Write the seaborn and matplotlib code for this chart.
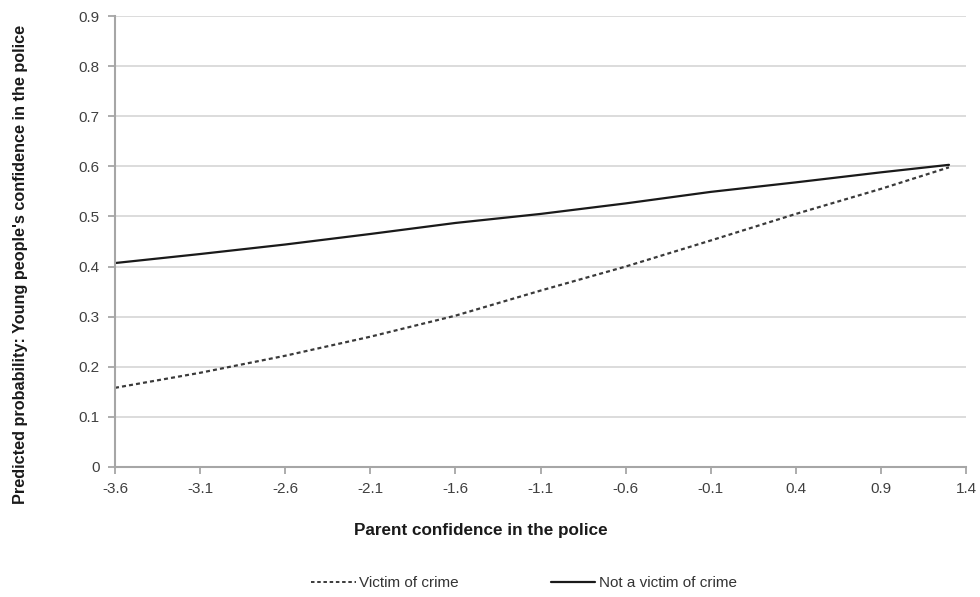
import matplotlib
matplotlib.use("Agg")
import matplotlib.pyplot as plt
import seaborn as sns
import pandas as pd
from matplotlib.lines import Line2D

# Data
parent_conf = [-3.6, -3.1, -2.6, -2.1, -1.6, -1.1, -0.6, -0.1, 0.4, 0.9, 1.3]
victim = [0.158, 0.188, 0.222, 0.260, 0.302, 0.352, 0.400, 0.452, 0.505, 0.555, 0.598]
not_victim = [0.407, 0.425, 0.444, 0.465, 0.487, 0.505, 0.526, 0.549, 0.568, 0.588, 0.603]
x_ticks = [-3.6, -3.1, -2.6, -2.1, -1.6, -1.1, -0.6, -0.1, 0.4, 0.9, 1.4]
y_ticks = [0, 0.1, 0.2, 0.3, 0.4, 0.5, 0.6, 0.7, 0.8, 0.9]
series_names = ["Victim of crime", "Not a victim of crime"]

sns.set_theme(style="white")
plt.rcParams["font.family"] = ["Liberation Sans", "DejaVu Sans"]

df = pd.DataFrame({
    "x": parent_conf * 2,
    "y": victim + not_victim,
    "group": [series_names[0]] * len(victim) + [series_names[1]] * len(not_victim),
})

fig = plt.figure(figsize=(9.8, 5.97), dpi=100)
ax = fig.add_axes([115 / 980, 1 - 467 / 597, (966 - 115) / 980, (467 - 16) / 597])

sns.lineplot(data=df[df.group == series_names[0]], x="x", y="y", ax=ax,
             color="#3a3a3a", linewidth=1.6, linestyle=(0, (1.8, 1.4)), legend=False)
sns.lineplot(data=df[df.group == series_names[1]], x="x", y="y", ax=ax,
             color="#1a1a1a", linewidth=1.6, linestyle="-", legend=False)

ax.set_xlim(-3.6, 1.4)
ax.set_ylim(0, 0.9)
ax.set_xticks(x_ticks)
ax.set_xticklabels([f"{v:g}" for v in x_ticks])
ax.set_yticks(y_ticks)
ax.set_yticklabels([f"{v:g}" for v in y_ticks])

ax.yaxis.grid(True, color="#d9d9d9", linewidth=1.3)
ax.set_axisbelow(True)
for s in ["top", "right"]:
    ax.spines[s].set_visible(False)
for s in ["left", "bottom"]:
    ax.spines[s].set_color("#a6a6a6")
    ax.spines[s].set_linewidth(1.5)
ax.tick_params(axis="both", which="major", length=5, width=1.3, color="#a6a6a6",
               labelsize=11, labelcolor="#404040", direction="out",
               bottom=True, left=True, pad=6)

ax.set_xlabel("")
ax.set_ylabel("")
fig.text(481 / 980, 1 - 531 / 597, "Parent confidence in the police",
         ha="center", va="center", fontsize=12.3, fontweight="bold", color="#1a1a1a")
fig.text(21 / 980, 1 - 264 / 597,
         "Predicted probability: Young people's confidence in the police",
         ha="center", va="center", rotation=90, fontsize=11.7, fontweight="bold",
         color="#1a1a1a")

handles = [
    Line2D([], [], color="#3a3a3a", linewidth=1.4, linestyle=(0, (1.8, 1.4))),
    Line2D([], [], color="#1a1a1a", linewidth=1.6, linestyle="-"),
]
fig.legend(handles, series_names, loc="center", bbox_to_anchor=(524 / 980, 1 - 583 / 597),
           ncol=2, frameon=False, fontsize=11, handlelength=2.9, handletextpad=0.25,
           columnspacing=6.0, labelcolor="#333333")

fig.savefig("out.png", dpi=100)
